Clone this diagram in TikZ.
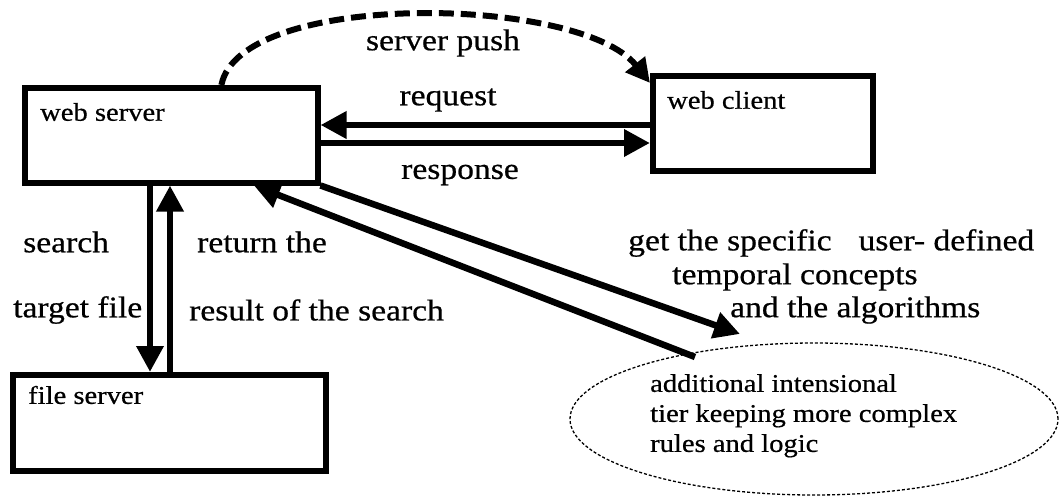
\documentclass[tikz,border=0pt]{standalone}
\usepackage{fontspec}
\setmainfont[FakeStretch=1.12,FakeBold=0.6]{Liberation Serif}
\usetikzlibrary{arrows.meta,shapes.geometric,calc}
\begin{document}
\begin{tikzpicture}[x=1pt,y=-1pt,
  box/.style={draw,line width=5.5pt,rectangle,anchor=north west,inner sep=0pt},
  lbl/.style={font=\fontsize{30}{33}\selectfont,inner sep=0pt},
  blbl/.style={font=\fontsize{25.5}{28}\selectfont,inner sep=0pt,anchor=west},
  conn/.style={line width=6.5pt,-{Triangle[length=26pt,width=26pt]}},
  push/.style={line width=6pt,dash pattern=on 15pt off 7pt,-{Triangle[length=24pt,width=24pt]}}
]
\useasboundingbox (0,0) rectangle (1060,498);
% boxes
\node[box,minimum width=293pt,minimum height=95pt] (ws) at (22,85) {};
\node[box,minimum width=220pt,minimum height=95pt] (wc) at (650,73) {};
\node[box,minimum width=313pt,minimum height=96pt] (fs) at (10,372) {};
\node[draw,line width=1.3pt,dash pattern=on 3pt off 2pt,ellipse,minimum width=488pt,minimum height=152pt,inner sep=0pt] (el) at (814,419) {};
% box labels
\node[blbl] (wst) at (40,112) {web server};
\node[blbl] (wct) at (667,100) {web client};
\node[blbl] (fst) at (28,395) {file server};
\node[blbl,align=left,anchor=north west,font=\fontsize{25.5}{30}\selectfont] (elt) at (650,374) {additional intensional\\tier keeping more complex\\rules and logic};
% connectors
\draw[conn] (wc.west |- 0,125) -- (ws.east |- 0,125);
\draw[conn] (ws.east |- 0,143) -- (wc.west |- 0,143);
\draw[conn] (ws.south -| 150,0) -- (fs.north -| 150,0);
\draw[conn] (fs.north -| 170,0) -- (ws.south -| 170,0);
\coordinate (dtip) at (740,334);
\coordinate (dstart) at (695,357);
\draw[conn] (ws.south east) -- (dtip);
\draw[conn] (dstart) -- ($(ws.south west)!0.777!(ws.south east)$);
\draw[push] ($(ws.north west)!0.668!(ws.north east)$) .. controls (240,-10) and (580,-5) .. ([yshift=-10pt]wc.north west);
% labels
\node[lbl] (tpush) at (443,43) {server push};
\node[lbl] (treq) at (448,100) {request};
\node[lbl] (tresp) at (460,175) {response};
\node[lbl,anchor=west] (tsearch) at (23,242) {search};
\node[lbl,anchor=west] (tret) at (197,242) {return the};
\node[lbl,anchor=west] (ttarget) at (13,310) {target file};
\node[lbl,anchor=west] (tres) at (189,310) {result of the search};
\node[lbl,anchor=west] (tget) at (628,243) {get the specific\hspace{0.9em}user- defined};
\node[lbl,anchor=west] (ttemp) at (672,277) {temporal concepts};
\node[lbl,anchor=west] (talg) at (730,310) {and the algorithms};
\end{tikzpicture}
\end{document}
